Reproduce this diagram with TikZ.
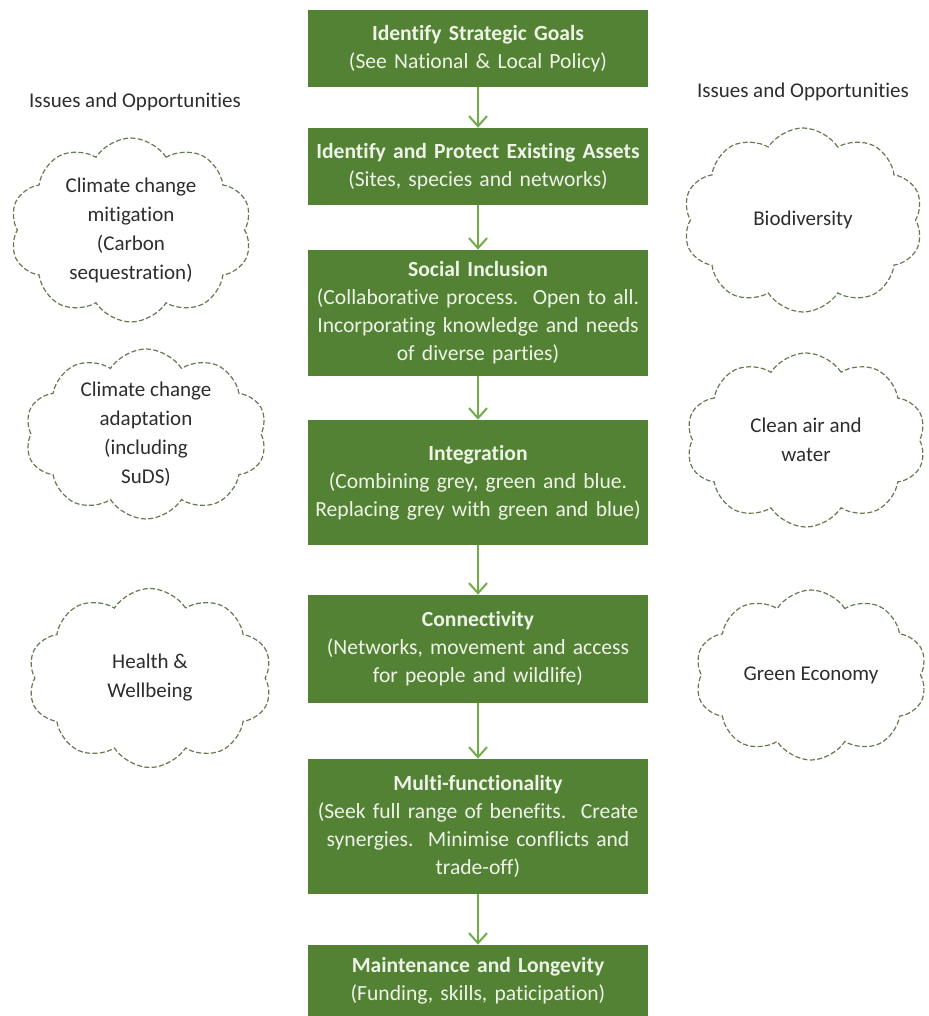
\documentclass[tikz,border=0pt]{standalone}
\usepackage{fontspec}
\setmainfont{Carlito}[Ligatures=NoCommon]
\usetikzlibrary{arrows.meta, shapes.symbols}
\definecolor{boxgreen}{RGB}{84,130,53}
\definecolor{arrowgreen}{RGB}{112,173,71}
\definecolor{cloudline}{RGB}{100,122,80}
\definecolor{boxtext}{RGB}{238,243,232}
\definecolor{cloudtext}{RGB}{45,45,45}
\tikzset{
    my-step-box/.style={
        rectangle, fill=boxgreen, text=boxtext, minimum width=170pt,
        text width=168pt, inner xsep=1pt, inner ysep=0pt, align=center,
        font=\fontsize{10.8}{14}\selectfont
    },
    my-cloud/.style={
        cloud, draw=cloudline, dash pattern=on 2.5pt off 1.2pt, line width=0.6pt,
        cloud puffs=10, cloud puff arc=115, cloud ignores aspect, inner sep=0pt
    },
    my-cloud-text/.style={
        text=cloudtext, align=center, font=\fontsize{10.5}{14.5}\selectfont
    },
    my-arrow/.style={
        draw=arrowgreen, line width=1pt, -{Straight Barb[length=5pt,width=9pt]}
    },
}

\begin{document}
\begin{tikzpicture}[x=0.5pt, y=-0.5pt]

        \useasboundingbox (0,0) rectangle (928,1016);

        % HEADINGS
        \node[my-cloud-text] (LHEAD) at (135,102) {Issues and Opportunities};
        \node[my-cloud-text] (RHEAD) at (803,92)  {Issues and Opportunities};

        % STEPS
        \node[my-step-box, minimum height=38.5pt] (GOALS)    at (478,48.5)
            {\textbf{Identify Strategic Goals}\\(See National \& Local Policy)};
        \node[my-step-box, minimum height=38.5pt] (ASSETS)   at (478,166.5)
            {\textbf{Identify and Protect Existing Assets}\\(Sites, species and networks)};
        \node[my-step-box, minimum height=63pt]   (SOCIAL)   at (478,313)
            {\textbf{Social Inclusion}\\(Collaborative process.\ \ Open to all.\\Incorporating knowledge and needs\\of diverse parties)};
        \node[my-step-box, minimum height=62.5pt] (INTEGRATE) at (478,482.5)
            {\textbf{Integration}\\(Combining grey, green and blue.\\Replacing grey with green and blue)};
        \node[my-step-box, minimum height=54pt]   (CONNECT)  at (478,649)
            {\textbf{Connectivity}\\(Networks, movement and access\\for people and wildlife)};
        \node[my-step-box, minimum height=67.5pt] (MULTI)    at (478,826.5)
            {\textbf{Multi-functionality}\\(Seek full range of benefits.\ \ Create\\synergies.\ \ Minimise conflicts and\\trade-off)};
        \node[my-step-box, minimum height=35.5pt] (MAINTAIN) at (478,980.5)
            {\textbf{Maintenance and Longevity}\\(Funding, skills, paticipation)};

        % STEP ARROWS
        \draw[my-arrow] (GOALS)     -- (ASSETS);
        \draw[my-arrow] (ASSETS)    -- (SOCIAL);
        \draw[my-arrow] (SOCIAL)    -- (INTEGRATE);
        \draw[my-arrow] (INTEGRATE) -- (CONNECT);
        \draw[my-arrow] (CONNECT)   -- (MULTI);
        \draw[my-arrow] (MULTI)     -- (MAINTAIN);

        % LEFT CLOUDS
        \node[my-cloud, minimum width=121pt, minimum height=92pt]   (MITIGATE) at (131,230) {};
        \node[my-cloud-text] (MITIGATETXT) at (MITIGATE) {Climate change\\mitigation\\(Carbon\\sequestration)};
        \node[my-cloud, minimum width=121pt, minimum height=85pt]   (ADAPT)    at (146,434) {};
        \node[my-cloud-text] (ADAPTTXT) at (ADAPT) {Climate change\\adaptation\\(including\\SuDS)};
        \node[my-cloud, minimum width=122pt, minimum height=89.5pt] (HEALTH)   at (150,678) {};
        \node[my-cloud-text] (HEALTHTXT) at (HEALTH) {Health \&\\Wellbeing};

        % RIGHT CLOUDS
        \node[my-cloud, minimum width=120pt, minimum height=92pt]   (BIODIV)   at (803,220) {};
        \node[my-cloud-text] (BIODIVTXT) at (BIODIV) {Biodiversity};
        \node[my-cloud, minimum width=120pt, minimum height=87pt]   (CLEAN)    at (806,440) {};
        \node[my-cloud-text] (CLEANTXT) at (CLEAN) {Clean air and\\water};
        \node[my-cloud, minimum width=116pt, minimum height=85pt]   (ECONOMY)  at (811,675) {};
        \node[my-cloud-text] (ECONOMYTXT) at (ECONOMY) {Green Economy};

    \end{tikzpicture}
\end{document}
